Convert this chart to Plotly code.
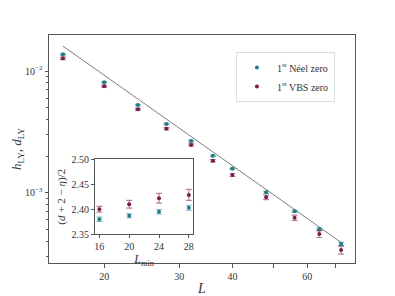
import plotly.graph_objects as go
import numpy as np

# ---- data ----
L = [16, 20, 24, 28, 32, 36, 40, 48, 56, 64, 72]
neel = [0.01371, 0.00807, 0.00526, 0.00367, 0.00266, 0.00201, 0.001574, 0.001007, 0.000703, 0.000500, 0.000379]
neel_err = [0.0002, 0.0001, 0.00007, 0.00005, 0.00004, 0.00003, 0.00002, 0.00002, 0.000015, 0.000012, 0.000012]
vbs = [0.01271, 0.00748, 0.00484, 0.00336, 0.00247, 0.001833, 0.001398, 0.000916, 0.000623, 0.000458, 0.000338]
vbs_err = [0.0003, 0.00015, 0.0001, 0.00007, 0.00005, 0.00004, 0.00004, 0.00004, 0.00003, 0.00003, 0.000025]

fit_L = [16, 72]
fit_exponent = 2.47
fit_prefactor = 15.1

Lmin = [16, 20, 24, 28]
inset_neel = [2.380, 2.387, 2.395, 2.403]
inset_neel_err = [0.0045, 0.004, 0.0045, 0.005]
inset_vbs = [2.400, 2.410, 2.422, 2.4286]
inset_vbs_err = [0.0056, 0.0077, 0.0097, 0.011]

teal = "#1f7f85"
teal_light = "rgba(31,127,133,0.55)"
maroon = "#7d1a4e"
maroon_light = "rgba(125,26,78,0.55)"
font_family = "Liberation Serif, Times New Roman, serif"

fit_y = [fit_prefactor * l ** (-fit_exponent) for l in fit_L]

fig = go.Figure()
fig.add_trace(go.Scatter(x=fit_L, y=fit_y, mode="lines",
                         line=dict(color="#6e6e6e", width=0.9), showlegend=False))
fig.add_trace(go.Scatter(x=L, y=neel, mode="markers", name="1<sup>st</sup> Néel zero",
                         marker=dict(color=teal, size=4),
                         error_y=dict(type="data", array=neel_err, color=teal_light, thickness=1.2, width=3)))
fig.add_trace(go.Scatter(x=L, y=vbs, mode="markers", name="1<sup>st</sup> VBS zero",
                         marker=dict(color=maroon, size=4),
                         error_y=dict(type="data", array=vbs_err, color=maroon_light, thickness=1.2, width=3)))

fig.add_trace(go.Scatter(x=Lmin, y=inset_neel, mode="markers", xaxis="x2", yaxis="y2", showlegend=False,
                         marker=dict(color=teal, size=4),
                         error_y=dict(type="data", array=inset_neel_err, color=teal_light, thickness=1.2, width=3)))
fig.add_trace(go.Scatter(x=Lmin, y=inset_vbs, mode="markers", xaxis="x2", yaxis="y2", showlegend=False,
                         marker=dict(color=maroon, size=4),
                         error_y=dict(type="data", array=inset_vbs_err, color=maroon_light, thickness=1.2, width=3)))

axis_line = "#555555"
# page body has an 8px default margin, so the figure is sized/offset to compensate
fig.update_layout(
    width=387, height=288,
    margin=dict(l=41, r=40, t=27, b=33),
    paper_bgcolor="white", plot_bgcolor="white",
    font=dict(family=font_family, size=10, color="#333333"),
    xaxis=dict(type="log", range=[1.1714, 1.8900], showgrid=False, zeroline=False, automargin=False,
               showline=True, linecolor=axis_line, linewidth=1, mirror=True,
               ticks="outside", ticklen=3.5, tickcolor=axis_line,
               tickmode="array", tickvals=[20, 30, 40, 50, 60, 70],
               ticktext=["20", "30", "40", "", "60", ""],
               title=dict(text="<i>L</i>", font=dict(size=14), standoff=7)),
    yaxis=dict(type="log", range=[-3.578, -1.704], showgrid=False, zeroline=False, automargin=False,
               showline=True, linecolor=axis_line, linewidth=1, mirror=True,
               ticks="outside", ticklen=3.5, tickcolor=axis_line,
               tickmode="array", tickvals=[1e-3, 1e-2],
               ticktext=["10<sup>−3</sup>", "10<sup>−2</sup>"],
               minor=dict(tickmode="array",
                          tickvals=[3e-4, 4e-4, 5e-4, 6e-4, 7e-4, 8e-4, 9e-4,
                                    2e-3, 3e-3, 4e-3, 5e-3, 6e-3, 7e-3, 8e-3, 9e-3],
                          ticks="outside", ticklen=2, tickcolor=axis_line),
               title=dict(text="<i>h</i><sub>LY</sub>, <i>d</i><sub>LY</sub>", font=dict(size=13), standoff=0)),
    xaxis2=dict(domain=[0.150, 0.4716], anchor="y2", range=[15.4, 28.6], showgrid=False, zeroline=False,
                automargin=False,
                showline=True, linecolor=axis_line, linewidth=1, mirror=True,
                ticks="outside", ticklen=3, tickcolor=axis_line,
                tickmode="array", tickvals=[16, 20, 24, 28], tickfont=dict(size=10),
                title=dict(text="<i>L</i><sub>min</sub>", font=dict(size=12), standoff=0)),
    yaxis2=dict(domain=[0.126, 0.455], anchor="x2", range=[2.35, 2.50], showgrid=False, zeroline=False,
                automargin=False,
                showline=True, linecolor=axis_line, linewidth=1, mirror=True,
                ticks="outside", ticklen=3, tickcolor=axis_line,
                tickmode="array", tickvals=[2.35, 2.40, 2.45, 2.50],
                ticktext=["2.35", "2.40", "2.45", "2.50"], tickfont=dict(size=10),
                title=dict(text="(<i>d</i> + 2 − <i>η</i>)/2", font=dict(size=11), standoff=3)),
    legend=dict(x=0.611, y=0.925, xanchor="left", yanchor="top",
                bgcolor="white", bordercolor="#dddddd", borderwidth=1,
                font=dict(size=10), itemwidth=30, tracegroupgap=0),
    showlegend=True,
)

fig.write_html("out.html")
